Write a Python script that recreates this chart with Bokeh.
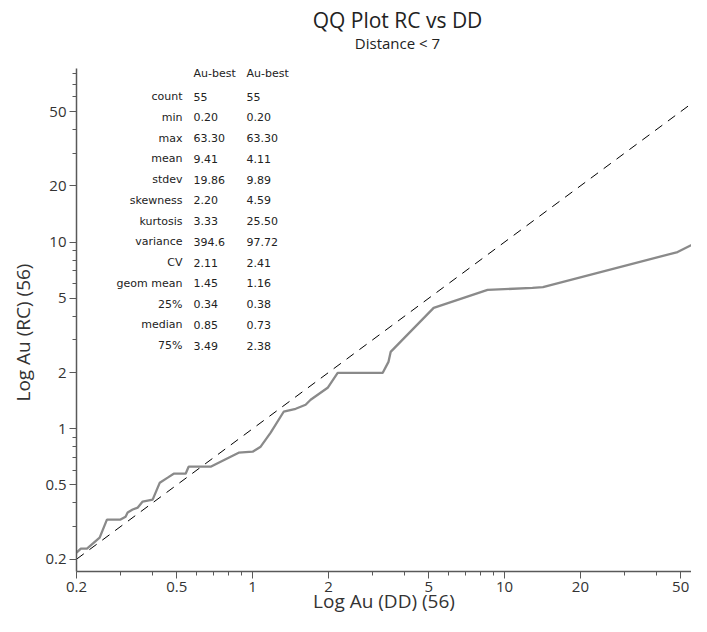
from bokeh.plotting import figure
from bokeh.models import Label, Title, FixedTicker, Range1d, CustomJSTickFormatter
from bokeh.embed import file_html
from bokeh.resources import INLINE

# ---- data ----
dd_quantiles = [0.200, 0.208, 0.220, 0.247, 0.264, 0.299, 0.313, 0.319, 0.334, 0.350,
                0.366, 0.401, 0.428, 0.460, 0.486, 0.542, 0.557, 0.681, 0.880, 1.00,
                1.076, 1.179, 1.328, 1.482, 1.623, 1.699, 1.985, 2.175, 2.404, 3.28,
                3.46, 3.53, 5.23, 8.56, 12.9, 14.2, 48.6, 63.3]
rc_quantiles = [0.217, 0.228, 0.228, 0.261, 0.326, 0.326, 0.338, 0.356, 0.369, 0.378,
                0.407, 0.417, 0.514, 0.547, 0.574, 0.574, 0.626, 0.626, 0.744, 0.753,
                0.801, 0.952, 1.233, 1.279, 1.344, 1.43, 1.657, 1.99, 1.99, 1.99,
                2.28, 2.58, 4.44, 5.54, 5.68, 5.74, 8.84, 10.6]
diag = [0.2, 63.3]

x_major = [0.2, 0.5, 1, 2, 5, 10, 20, 50]
x_minor = [0.3, 0.4, 0.6, 0.7, 0.8, 0.9, 3, 4, 6, 7, 8, 9, 30, 40, 60]
y_major = [0.2, 0.5, 1, 2, 5, 10, 20, 50]
y_minor = [0.3, 0.4, 0.6, 0.7, 0.8, 0.9, 3, 4, 6, 7, 8, 9, 30, 40, 60, 70, 80]

stat_header = ["Au-best", "Au-best"]
stat_labels = ["count", "min", "max", "mean", "stdev", "skewness", "kurtosis",
               "variance", "CV", "geom mean", "25%", "median", "75%"]
stat_col1 = ["55", "0.20", "63.30", "9.41", "19.86", "2.20", "3.33",
             "394.6", "2.11", "1.45", "0.34", "0.85", "3.49"]
stat_col2 = ["55", "0.20", "63.30", "4.11", "9.89", "4.59", "25.50",
             "97.72", "2.41", "1.16", "0.38", "0.73", "2.38"]

title_text = "QQ Plot RC vs DD"
subtitle_text = "Distance < 7"
x_label = "Log Au (DD) (56)"
y_label = "Log Au (RC) (56)"

# ---- figure ----
W, H = 691, 616
FB = 44  # bottom border -> frame bottom at canvas 572
p = figure(width=W, height=H, x_axis_type="log", y_axis_type="log",
           x_range=Range1d(0.1999, 55.2), y_range=Range1d(0.1718, 196.9),
           output_backend="svg", toolbar_location=None,
           min_border_left=76, min_border_right=0, min_border_top=0, min_border_bottom=FB)
p.outline_line_color = None
p.xgrid.visible = False
p.ygrid.visible = False
p.background_fill_color = "white"
p.border_fill_color = "white"

p.line(diag, diag, line_color="black", line_width=1, line_dash="9 7")
p.line(dd_quantiles, rc_quantiles, line_color="#8a8a8a", line_width=2.3)

fmt = CustomJSTickFormatter(code="return tick.toString();")
axis_col = "#595959"
for ax, maj, mnr in ((p.xaxis[0], x_major, x_minor), (p.yaxis[0], y_major, y_minor)):
    ax.ticker = FixedTicker(ticks=maj, minor_ticks=mnr)
    ax.formatter = fmt
    ax.axis_line_color = axis_col
    ax.axis_line_width = 1.5
    ax.major_tick_line_color = axis_col
    ax.minor_tick_line_color = axis_col
    ax.major_tick_in = 0
    ax.major_tick_out = 7
    ax.minor_tick_in = 0
    ax.minor_tick_out = 4
    ax.major_label_standoff = 3
    ax.major_label_text_font = "Open Sans"
    ax.major_label_text_font_size = "15px"
    ax.major_label_text_color = "#333333"
    ax.axis_label_text_font = "Open Sans"
    ax.axis_label_text_font_size = "19px"
    ax.axis_label_text_font_style = "normal"
    ax.axis_label_text_color = "#333333"

p.yaxis.bounds = (0.1718, 85.2)
p.xaxis.axis_label = x_label
p.xaxis.axis_label_standoff = -7
p.yaxis.axis_label = None

p.add_layout(Title(text=y_label, align="left", offset=170, standoff=13,
                   text_font="Open Sans", text_font_size="19px", text_font_style="normal",
                   text_color="#333333"), "left")

# frame bottom-left is at canvas (76, 572)
FX, FY = 76, H - FB

def add_text(txt, px, py, size, font="Open Sans", align="left", color="#222222"):
    p.add_layout(Label(x=px - FX, y=FY - py, x_units="screen", y_units="screen", text=txt,
                       text_font=font, text_font_size=size, text_align=align,
                       text_baseline="middle", text_color=color))

add_text(title_text, 397, 20, "21px", align="center")
add_text(subtitle_text, 397, 43, "15px", align="center")

tf = "DejaVu Sans"
add_text(stat_header[0], 193, 74, "11px", font=tf)
add_text(stat_header[1], 246, 74, "11px", font=tf)
for i, (lab, a, b) in enumerate(zip(stat_labels, stat_col1, stat_col2)):
    yy = 97 + 20.75 * i
    add_text(lab, 182, yy, "11px", font=tf, align="right")
    add_text(a, 193, yy, "11px", font=tf)
    add_text(b, 246, yy, "11px", font=tf)

open("out.html", "w").write(file_html(p, INLINE))
